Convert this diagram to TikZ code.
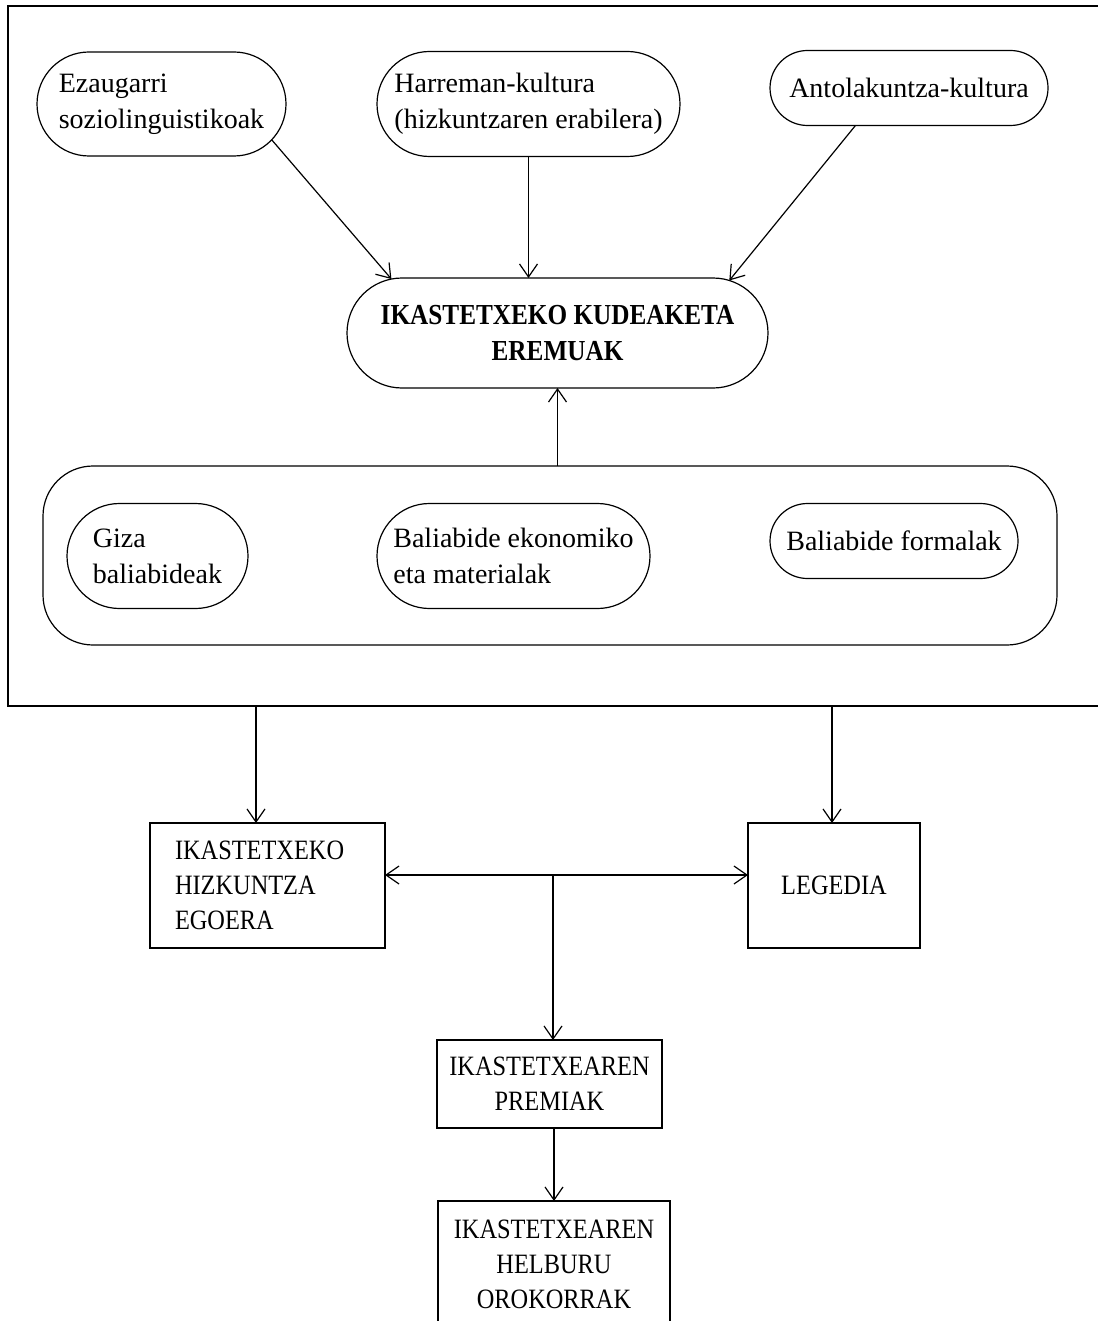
\documentclass[tikz,border=0pt]{standalone}
\usepackage{fontspec}
\setmainfont{Liberation Serif}
\newfontfamily\capsfont{Liberation Serif}[FakeStretch=0.87]
\usetikzlibrary{shapes.misc,arrows.meta}
\begin{document}
\begin{tikzpicture}[x=0.5pt,y=-0.5pt,
  line width=0.6pt,
  every node/.style={inner sep=0pt, outer sep=0pt, font=\fontsize{14}{18}\selectfont},
  oval/.style={draw, rounded rectangle, align=left},
  capbox/.style={draw, rectangle, font={\capsfont\fontsize{14}{17.5}\selectfont}},
  arr/.style={-{Straight Barb[length=6.5pt,width=9pt]}},
  darr/.style={{Straight Barb[length=6.5pt,width=9pt]}-{Straight Barb[length=6.5pt,width=9pt]}},
]
\useasboundingbox (0,0) rectangle (1097,1321);

% outer frame (its right side lies beyond the page)
\draw (1110,6) -- (8,6) -- (8,706) -- (1110,706);
\coordinate (fA) at (256,706);
\coordinate (fB) at (832,706);

% top ovals
\node[oval, minimum width=124.5pt, minimum height=52pt] (ez) at (161.5,104) {Ezaugarri\\soziolinguistikoak};
\node[oval, minimum width=151.5pt, minimum height=52.5pt] (har) at (528.5,104) {Harreman-kultura\\(hizkuntzaren erabilera)};
\node[oval, minimum width=139pt, minimum height=37.5pt] (ant) at (909,88) {Antolakuntza-kultura};

% central node
\node[draw, rounded rectangle, align=center, minimum width=210.5pt, minimum height=55pt,
      font={\capsfont\fontsize{14.5}{18}\selectfont\bfseries}] (ika) at (557.5,333) {IKASTETXEKO KUDEAKETA\\EREMUAK};

% resources container
\node[draw, rounded corners=25pt, minimum width=507pt, minimum height=89.5pt] (big) at (550,555.5) {};
\node[oval, minimum width=90.5pt, minimum height=52.5pt] (giza) at (157.5,556) {Giza\\baliabideak};
\node[oval, minimum width=136.5pt, minimum height=52.5pt] (eko) at (513.5,556) {Baliabide ekonomiko\\eta materialak};
\node[oval, minimum width=124pt, minimum height=37.5pt] (form) at (894,541) {Baliabide formalak};

% lower boxes
\node[capbox, align=left, text width=92.5pt, minimum width=117.5pt, minimum height=62.5pt] (hiz) at (267.5,885.5) {IKASTETXEKO\\HIZKUNTZA\\EGOERA};
\node[capbox, minimum width=86pt, minimum height=62.5pt] (leg) at (834,885.5) {LEGEDIA};
\node[capbox, align=center, minimum width=112.5pt, minimum height=44pt] (pre) at (549.5,1084) {IKASTETXEAREN\\PREMIAK};
\node[capbox, align=center, minimum width=116pt, minimum height=63pt] (hel) at (554,1264) {IKASTETXEAREN\\HELBURU\\OROKORRAK};

% connectors
\draw[arr] (ez.-18.8) -- (ika.162);
\draw[arr] (har.south) -- (har.south |- ika.north);
\draw[arr] (ant.-145) -- (ika.17);
\draw[arr] (ika.south |- big.north) -- (ika.south);
\draw[arr] (fA) -- (fA |- hiz.north);
\draw[arr] (fB) -- (fB |- leg.north);
\coordinate (mid) at (553,875);
\draw[darr] (hiz.east |- mid) -- (leg.west |- mid);
\draw[arr] (mid) -- (mid |- pre.north);
\draw[arr] (hel.north |- pre.south) -- (hel.north);
\end{tikzpicture}
\end{document}
